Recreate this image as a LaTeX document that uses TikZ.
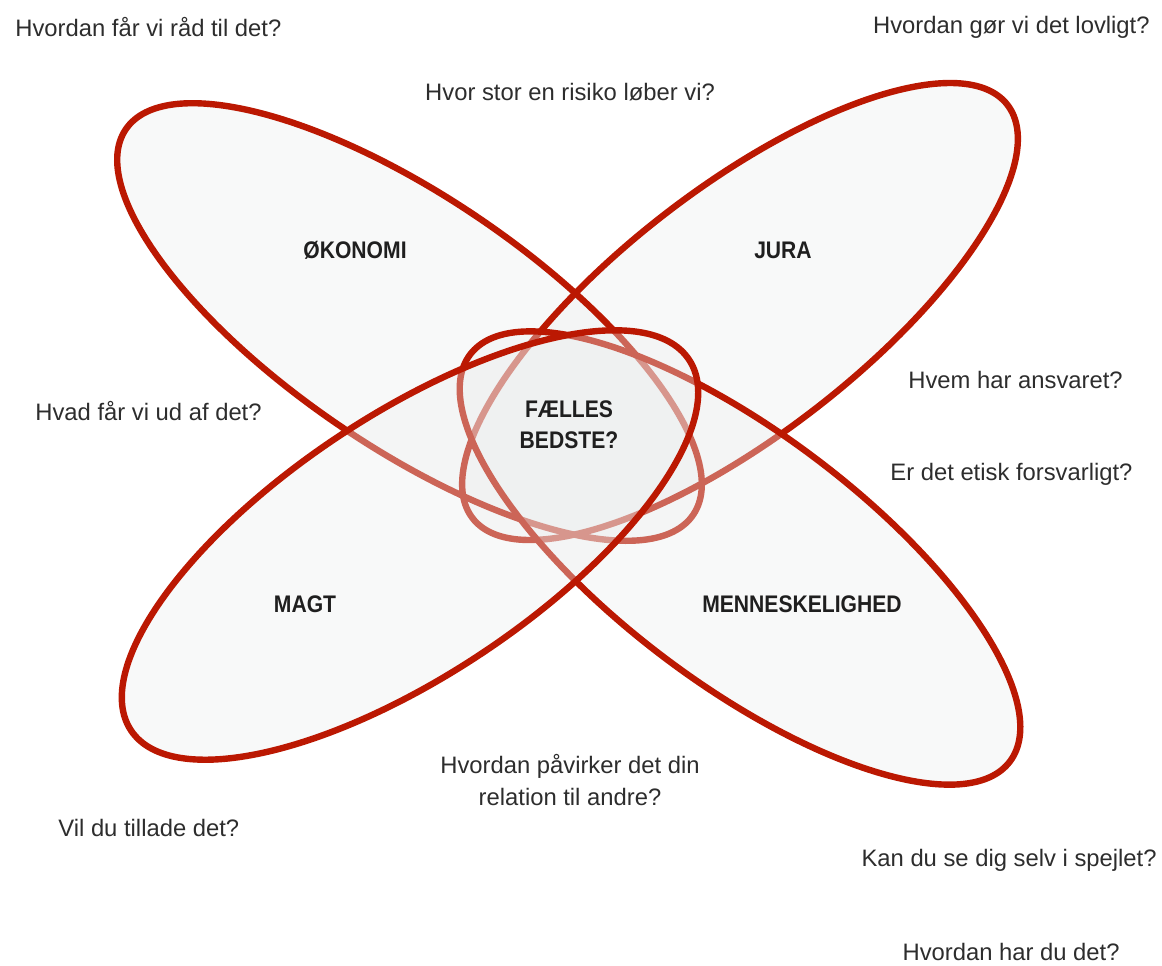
\documentclass[tikz,border=0pt]{standalone}
\usepackage{fontspec}
\setmainfont{Liberation Sans}
\newfontfamily\emnefont[FakeStretch=0.88]{Liberation Sans}
\usetikzlibrary{positioning}
\definecolor{kompasRod}{RGB}{187,24,2}
\definecolor{bladGraa}{RGB}{236,238,238}
\definecolor{tekstGraa}{RGB}{45,45,45}

% et blad: midte x, midte y, vinkel, lang radius, kort radius, stil
\newcommand{\blad}[6]{\path[#6, rotate around={#3:(#1,#2)}] (#1,#2) ellipse [x radius=#4, y radius=#5];}

\begin{document}
\begin{tikzpicture}[x=0.5pt, y=-0.5pt,
        bladfyld/.style={fill=bladGraa, fill opacity=0.36},
        bladkant/.style={draw=kompasRod, line width=3.2pt},
        emne/.style={font=\emnefont\bfseries\fontsize{12}{15.5}\selectfont, text=black!88, align=center, inner sep=0pt},
        spg/.style={font=\fontsize{11.9}{16}\selectfont, text=tekstGraa, align=center, inner sep=0pt}
    ]
    \useasboundingbox (0,0) rectangle (1162,965);

    % Blade (de to oeverste foerst)
    \blad{409.5}{322}{-34.2}{343}{125}{bladfyld}
    \blad{740}{311.5}{37.7}{338}{123}{bladfyld}
    \blad{409.5}{322}{-34.2}{343}{125}{bladkant}
    \blad{740}{311.5}{37.7}{338}{123}{bladkant}
    \blad{740}{558}{-37}{338}{125}{bladfyld}
    \blad{740}{558}{-37}{338}{125}{bladkant}
    \blad{410}{545}{33.6}{335}{130}{bladfyld}
    \blad{410}{545}{33.6}{335}{130}{bladkant}

    % Emner
    \node[emne] (okonomi) at (355,250) {ØKONOMI};
    \node[emne] (jura) at (783,250) {JURA};
    \node[emne] (magt) at (305,604) {MAGT};
    \node[emne] (menneske) at (802,604) {MENNESKELIGHED};
    \node[emne] (faelles) at (569,425) {FÆLLES\\BEDSTE?};

    % Spoergsmaal
    \node[spg, anchor=west] (raad) at (15,27) {Hvordan får vi råd til det?};
    \node[spg, anchor=east] (lov) at (1150,27) {Hvordan gør vi det lovligt?};
    \node[spg] (risiko) at (570,92) {Hvor stor en risiko løber vi?};
    \node[spg, anchor=west] (ansvar) at (908,380) {Hvem har ansvaret?};
    \node[spg, anchor=west] (udbytte) at (35,411) {Hvad får vi ud af det?};
    \node[spg, anchor=west] (etik) at (890,474) {Er det etisk forsvarligt?};
    \node[spg] (relation) at (570,780) {Hvordan påvirker det din\\relation til andre?};
    \node[spg, anchor=west] (tillade) at (58,828) {Vil du tillade det?};
    \node[spg, anchor=east] (spejl) at (1157,860) {Kan du se dig selv i spejlet?};
    \node[spg, anchor=east] (trivsel) at (1120,952) {Hvordan har du det?};

\end{tikzpicture}
\end{document}
